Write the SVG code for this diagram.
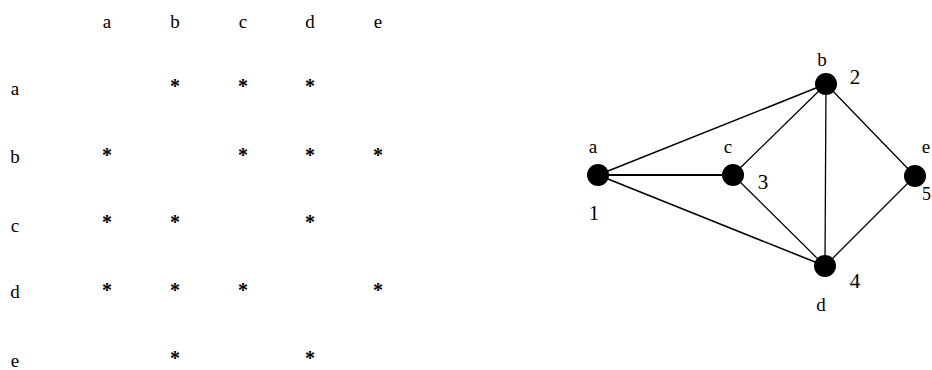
<svg xmlns="http://www.w3.org/2000/svg" width="932" height="370" viewBox="0 0 932 370">
<style>
text{font-family:"Liberation Serif","Times New Roman",serif;fill:#000;text-anchor:middle}
.h{font-size:19px}
.s{font-size:20px;font-weight:bold}
.l{font-size:19px}
.n{font-size:21px}
.e{stroke:#000;stroke-width:1.3;fill:none}
.node{fill:#000}
</style>
<rect width="932" height="370" fill="#fff"/>
<g id="matrix">
<g id="col-headers">
<text class="h" x="107" y="28">a</text>
<text class="h" x="175" y="28">b</text>
<text class="h" x="243" y="28">c</text>
<text class="h" x="310" y="28">d</text>
<text class="h" x="378" y="28">e</text>
</g>
<g id="row-headers">
<text class="h" x="15" y="95">a</text>
<text class="h" x="15" y="163">b</text>
<text class="h" x="15" y="232">c</text>
<text class="h" x="15" y="298">d</text>
<text class="h" x="15" y="367">e</text>
</g>
<g id="cells">
<text class="s" x="175" y="93">*</text>
<text class="s" x="243" y="93">*</text>
<text class="s" x="310" y="93">*</text>
<text class="s" x="107" y="162">*</text>
<text class="s" x="243" y="162">*</text>
<text class="s" x="310" y="162">*</text>
<text class="s" x="378" y="162">*</text>
<text class="s" x="107" y="229">*</text>
<text class="s" x="175" y="229">*</text>
<text class="s" x="310" y="229">*</text>
<text class="s" x="107" y="297">*</text>
<text class="s" x="175" y="297">*</text>
<text class="s" x="243" y="297">*</text>
<text class="s" x="378" y="297">*</text>
<text class="s" x="175" y="365">*</text>
<text class="s" x="310" y="365">*</text>
</g>
</g>
<g id="connectors">
<line class="e" x1="598" y1="175" x2="826" y2="84" style="stroke-width:1.6"/>
<line class="e" x1="598" y1="175" x2="733" y2="175" style="stroke-width:2.2"/>
<line class="e" x1="598" y1="175" x2="825" y2="266" style="stroke-width:1.6"/>
<line class="e" x1="733" y1="175" x2="826" y2="84"/>
<line class="e" x1="733" y1="175" x2="825" y2="266"/>
<line class="e" x1="826" y1="84" x2="825" y2="266"/>
<line class="e" x1="826" y1="84" x2="915" y2="176"/>
<line class="e" x1="825" y1="266" x2="915" y2="176"/>
</g>
<g id="node-a">
<circle class="node" cx="598" cy="175" r="11"/>
<text class="l" x="593" y="153">a</text>
<text class="n" x="594" y="220">1</text>
</g>
<g id="node-c">
<circle class="node" cx="733" cy="175" r="11"/>
<text class="l" x="728" y="153">c</text>
<text class="n" x="763" y="189">3</text>
</g>
<g id="node-b">
<circle class="node" cx="826" cy="84" r="11"/>
<text class="l" x="822" y="66">b</text>
<text class="n" x="855" y="84">2</text>
</g>
<g id="node-d">
<circle class="node" cx="825" cy="266" r="11"/>
<text class="l" x="821" y="311">d</text>
<text class="n" x="855" y="288">4</text>
</g>
<g id="node-e">
<circle class="node" cx="915" cy="176" r="11"/>
<text class="l" x="926" y="153">e</text>
<text class="n" x="922" y="200" style="text-anchor:start;font-size:18px">5</text>
</g>
</svg>
